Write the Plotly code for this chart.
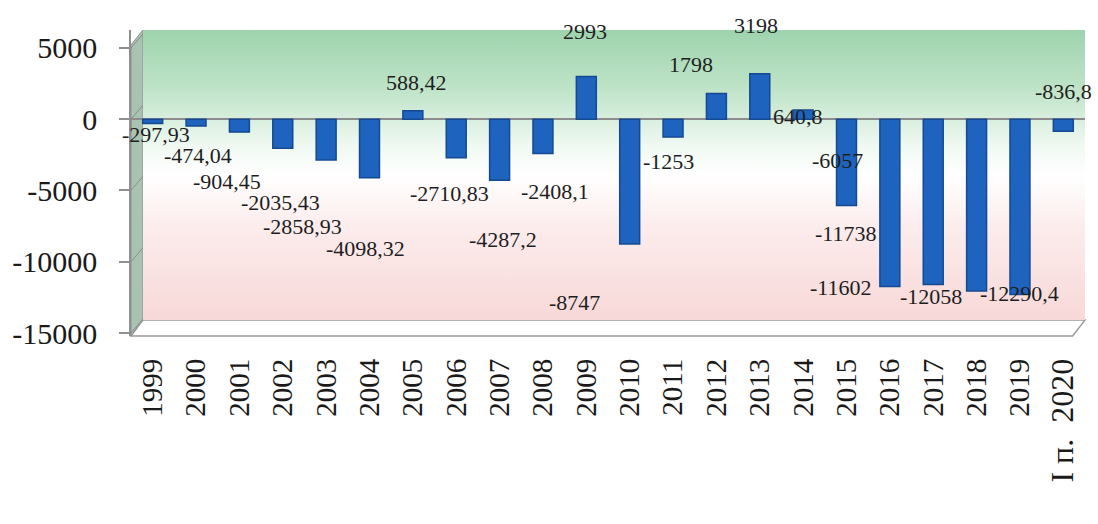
import base64
import plotly.graph_objects as go

# ---- data ----
years = ["1999", "2000", "2001", "2002", "2003", "2004", "2005", "2006", "2007", "2008",
         "2009", "2010", "2011", "2012", "2013", "2014", "2015", "2016", "2017", "2018",
         "2019", "I п. 2020"]
balance = [-297.93, -474.04, -904.45, -2035.43, -2858.93, -4098.32, 588.42, -2710.83,
           -4287.2, -2408.1, 2993, -8747, -1253, 1798, 3198, 640.8, -6057, -11738,
           -11602, -12058, -12290.4, -836.8]
y_ticks = [5000, 0, -5000, -10000, -15000]
y_tick_text = ["5000", "0", "-5000", "-10000", "-15000"]

# label pixel offsets (style only), mimicking the original placement
label_dx = [3, 2, -12, -2, -24, -4, 4, -7, 3, 12, -1, -55, -5, -25, -4, -5, -9, -44, -92, -46, 0, 0]
label_dy = [-11, -30, -49, -54, -67, -71, 28, -36, -59, -38, 45, -59, -24, 29, 48, -6, 45, 53, -3, -5, 1, 40]

SERIF = "Liberation Serif, Times New Roman, serif"
GRID = "#8c8c8c"
WALL_X = 0.0125   # depth offset of the back wall in x-domain units
FLOOR_Y = 0.052   # depth offset of the floor in y-domain units
DEPTH_PX = 14

# tick texts: the last (half-year) label is set a bit larger, as in the original
tick_text = [t if i < len(years) - 1 else
             "<span style='font-size:32px'>" + t.replace(" ", "\u00a0").replace(".\u00a0", ".\u00a0\u00a0") + "</span>"
             for i, t in enumerate(years)]

fig = go.Figure()
fig.add_trace(go.Bar(
    x=list(range(len(years))), y=balance, width=0.46,
    marker=dict(color="#1e63be", line=dict(color="#154a92", width=1.5)),
    hovertext=years, hoverinfo="text+y",
))

# gradient back wall
svg = ('<svg xmlns="http://www.w3.org/2000/svg" width="100" height="100" viewBox="0 0 100 100" '
       'preserveAspectRatio="none"><defs><linearGradient id="g" x1="0" y1="0" x2="0" y2="1">'
       '<stop offset="0" stop-color="#9ed3ad"/>'
       '<stop offset="0.22" stop-color="#c2e5cb"/>'
       '<stop offset="0.40" stop-color="#f0f9f2"/>'
       '<stop offset="0.50" stop-color="#ffffff"/>'
       '<stop offset="0.68" stop-color="#fcecec"/>'
       '<stop offset="1" stop-color="#f8d8d8"/>'
       '</linearGradient></defs><rect x="0" y="0" width="100" height="100" fill="url(#g)"/></svg>')
src = "data:image/svg+xml;base64," + base64.b64encode(svg.encode()).decode()
fig.add_layout_image(dict(source=src, xref="x domain", yref="y domain", x=WALL_X, y=1,
                          sizex=1 - WALL_X, sizey=1 - FLOOR_Y, xanchor="left", yanchor="top",
                          sizing="stretch", layer="below"))

shapes = []
# side wall
shapes.append(dict(type="path", xref="x domain", yref="y domain",
                   path=f"M 0 0 L 0 0.951 L {WALL_X} 1 L {WALL_X} {FLOOR_Y} Z",
                   fillcolor="#a9c3b1", line=dict(color="#909090", width=1), layer="below"))
# floor
shapes.append(dict(type="path", xref="x domain", yref="y domain",
                   path=f"M 0 0 L {WALL_X} {FLOOR_Y} L 1 {FLOOR_Y} L 0.987 0 Z",
                   fillcolor="#ffffff", line=dict(color="#9a9a9a", width=1.5), layer="below"))
# back-wall gridlines (shifted by the depth)
for v in y_ticks:
    shapes.append(dict(type="line", xref="x domain", yref="y", ysizemode="pixel", yanchor=v,
                       x0=WALL_X, x1=1, y0=DEPTH_PX, y1=DEPTH_PX,
                       line=dict(color=GRID, width=2), layer="below"))
    shapes.append(dict(type="line", xref="x domain", yref="y", ysizemode="pixel", yanchor=v,
                       x0=0, x1=WALL_X, y0=0, y1=DEPTH_PX,
                       line=dict(color=GRID, width=1), layer="below"))
# category ticks on the zero line
for i in range(len(years) + 1):
    shapes.append(dict(type="line", xref="x", yref="y", ysizemode="pixel", yanchor=0,
                       x0=i - 0.5, x1=i - 0.5, y0=0, y1=-14,
                       line=dict(color=GRID, width=1.2), layer="below"))
fig.update_layout(shapes=shapes)

# data labels
for i, v in enumerate(balance):
    txt = f"{v:g}".replace(".", ",")
    fig.add_annotation(x=i, y=v, text=txt, showarrow=False, xanchor="center", yanchor="middle",
                       xshift=label_dx[i], yshift=label_dy[i],
                       font=dict(family=SERIF, size=22, color="#1e1e1e"))

fig.update_layout(
    width=1098, height=524,
    margin=dict(l=125, r=13, t=30, b=188),
    paper_bgcolor="white", plot_bgcolor="rgba(0,0,0,0)",
    showlegend=False,
    xaxis=dict(range=[-0.5, len(years) - 0.5], showgrid=False, showline=False, zeroline=False,
               tickmode="array", tickvals=list(range(len(years))), ticktext=tick_text,
               ticks="", tickangle=-90, ticklabelstandoff=16,
               tickfont=dict(family=SERIF, size=29, color="#1a1a1a")),
    yaxis=dict(range=[-15210, 6260], tickvals=y_ticks, ticktext=y_tick_text, showgrid=False,
               zeroline=True, zerolinecolor=GRID, zerolinewidth=2,
               showline=True, linecolor="#909090", linewidth=1.5,
               ticks="outside", ticklen=10, tickcolor="#909090", tickwidth=1.5,
               ticklabelstandoff=16,
               tickfont=dict(family=SERIF, size=30, color="#1a1a1a")),
)

fig.write_html("out.html", config={"displayModeBar": False},
               post_script="document.body.style.margin='0';document.body.style.overflow='hidden';")
